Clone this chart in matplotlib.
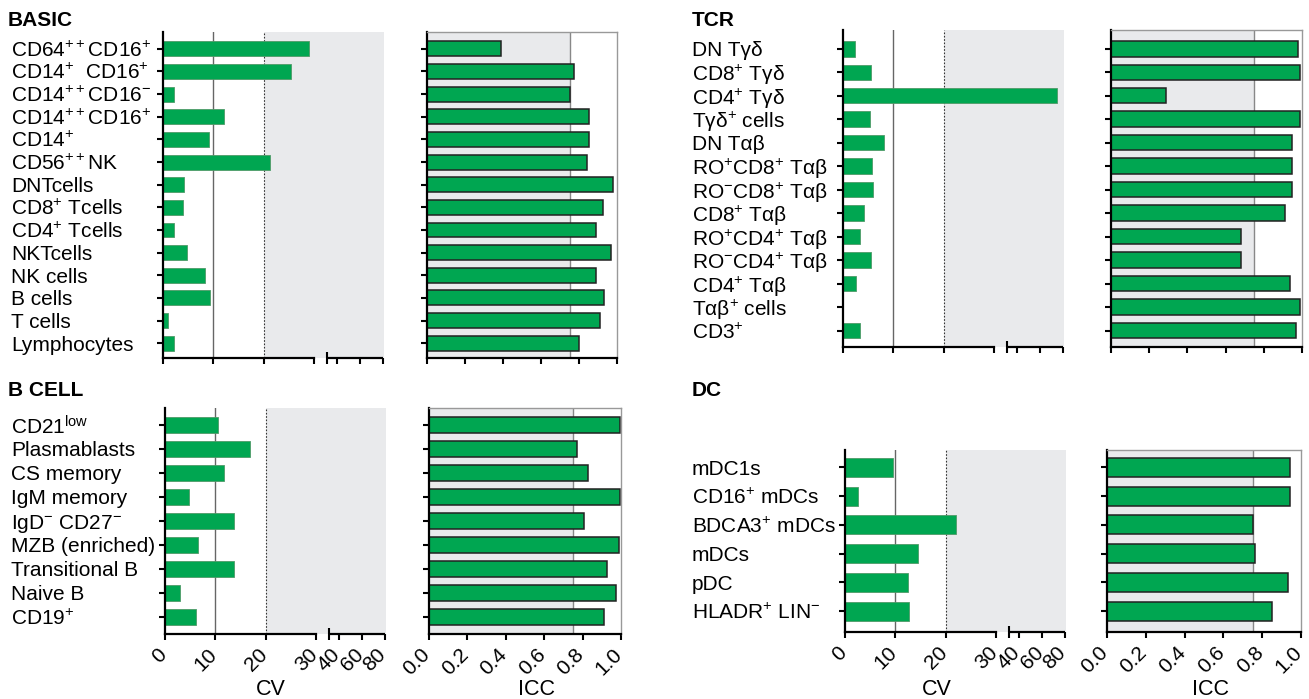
import numpy as np
import matplotlib
matplotlib.use("Agg")
import matplotlib.pyplot as plt
from matplotlib.transforms import ScaledTranslation

plt.rcParams['font.family'] = ['Liberation Sans', 'DejaVu Sans']
plt.rcParams['mathtext.default'] = 'regular'

W, H = 1309, 699
GREEN = '#00a651'
GRAY_BG = '#e9eaec'

# ---- data (top to bottom) ----
basic_labels = ['CD64$^{++}$CD16$^{+}$', 'CD14$^{+}$  CD16$^{+}$', 'CD14$^{++}$CD16$^{-}$',
                'CD14$^{++}$CD16$^{+}$', 'CD14$^{+}$', 'CD56$^{++}$NK', 'DNTcells',
                'CD8$^{+}$ Tcells', 'CD4$^{+}$ Tcells', 'NKTcells', 'NK cells', 'B cells',
                'T cells', 'Lymphocytes']
basic_cv = [29.0, 25.3, 2.2, 12.0, 9.2, 21.2, 4.1, 3.9, 2.1, 4.8, 8.4, 9.4, 0.9, 2.2]
basic_icc = [0.39, 0.775, 0.75, 0.85, 0.855, 0.84, 0.98, 0.925, 0.89, 0.97, 0.89, 0.93, 0.91, 0.80]

tcr_labels = ['DN Tγδ', 'CD8$^{+}$ Tγδ', 'CD4$^{+}$ Tγδ', 'Tγδ$^{+}$ cells', 'DN Tαβ',
              'RO$^{+}$CD8$^{+}$ Tαβ', 'RO$^{-}$CD8$^{+}$ Tαβ', 'CD8$^{+}$ Tαβ',
              'RO$^{+}$CD4$^{+}$ Tαβ', 'RO$^{-}$CD4$^{+}$ Tαβ', 'CD4$^{+}$ Tαβ',
              'Tαβ$^{+}$ cells', 'CD3$^{+}$']
tcr_cv = [2.4, 5.6, 75.0, 5.4, 8.2, 5.8, 5.9, 4.1, 3.3, 5.6, 2.5, 0.0, 3.4]
tcr_icc = [0.98, 0.99, 0.29, 0.99, 0.95, 0.95, 0.95, 0.91, 0.68, 0.68, 0.935, 0.99, 0.97]

bcell_labels = ['CD21$^{low}$', 'Plasmablasts', 'CS memory', 'IgM memory',
                'IgD$^{-}$ CD27$^{-}$', 'MZB (enriched)', 'Transitional B', 'Naive B',
                'CD19$^{+}$']
bcell_cv = [10.4, 16.9, 11.6, 4.7, 13.7, 6.5, 13.7, 3.0, 6.1]
bcell_icc = [0.997, 0.772, 0.826, 0.993, 0.809, 0.99, 0.929, 0.972, 0.911]

dc_labels = ['mDC1s', 'CD16$^{+}$ mDCs', 'BDCA3$^{+}$ mDCs', 'mDCs', 'pDC',
             'HLADR$^{+}$ LIN$^{-}$']
dc_cv = [9.5, 2.5, 22.0, 14.4, 12.4, 12.6]
dc_icc = [0.945, 0.945, 0.752, 0.762, 0.933, 0.853]

cv_ticks = [0, 10, 20, 30, 40, 60, 80]
icc_ticks = [0.0, 0.2, 0.4, 0.6, 0.8, 1.0]


# broken CV axis: 0-30 linear, then 31-80 compressed
def cv_fwd(x):
    x = np.asarray(x, float)
    return np.where(x <= 30, x, 34.5 + (x - 40) * 0.226)


def cv_inv(y):
    y = np.asarray(y, float)
    return np.where(y <= 30, y, np.where(y < 32.24, 30, 40 + (y - 34.5) / 0.226))


fig = plt.figure(figsize=(W / 100, H / 100), dpi=100)
shift = ScaledTranslation(0.05, 0, fig.dpi_scale_trans)


def px_axes(l, t, r, b):
    return fig.add_axes([l / W, 1 - b / H, (r - l) / W, (b - t) / H])


def style_common(ax, n, pads):
    ax.set_ylim(n - 1 + pads[1], -pads[0])
    for s in ('left', 'bottom'):
        ax.spines[s].set_linewidth(1.6)
        ax.spines[s].set_color('k')
    ax.tick_params(axis='both', which='major', direction='out', length=4.5,
                   width=1.5, color='k', labelsize=15)


def rotate_xlabels(ax, texts):
    ax.set_xticklabels(texts, rotation=45, ha='right')
    for t in ax.get_xticklabels():
        t.set_transform(t.get_transform() + shift)


def cv_panel(box, labels, values, pads, label_px, bottom_row):
    ax = px_axes(*box)
    ax.set_xscale('function', functions=(cv_fwd, cv_inv))
    y = np.arange(len(labels))
    ax.axvspan(20, 81, color=GRAY_BG, lw=0, zorder=0)
    ax.axvline(10, color='#666666', lw=1, zorder=1)
    ax.axvline(20, color='#333333', lw=0.8, ls=(0, (1.5, 1.5)), zorder=1)
    ax.barh(y, values, height=0.66, color=GREEN, edgecolor='#4f9a68', lw=0.6, zorder=2)
    ax.set_xlim(0, 81)
    style_common(ax, len(labels), pads)
    ax.spines['top'].set_visible(False)
    ax.spines['right'].set_visible(False)
    ax.spines['bottom'].set_bounds(0, 30)
    ax.plot([31.3, 80], [0, 0], transform=ax.get_xaxis_transform(), color='k',
            lw=1.6, clip_on=False, solid_capstyle='butt')
    ax.set_xticks(cv_ticks)
    ax.set_xticks([30, 31.3], minor=True)
    ax.tick_params(axis='x', which='minor', direction='inout', length=8, width=1.5)
    if bottom_row:
        rotate_xlabels(ax, [str(t) for t in cv_ticks])
    else:
        ax.set_xticklabels([])
    pad = (box[0] - label_px) * 0.72 - 4.5
    ax.set_yticks(y, labels)
    ax.tick_params(axis='y', pad=pad, labelsize=15)
    for t in ax.get_yticklabels():
        t.set_ha('left')
    return ax


def icc_panel(box, values, pads, bottom_row):
    ax = px_axes(*box)
    y = np.arange(len(values))
    ax.axvspan(0, 0.75, color=GRAY_BG, lw=0, zorder=0)
    ax.axvline(0.75, color='#888888', lw=1, zorder=1)
    ax.barh(y, values, height=0.66, color=GREEN, edgecolor='#222222', lw=1.1, zorder=2)
    ax.set_xlim(0, 1)
    style_common(ax, len(values), pads)
    for s in ('top', 'right'):
        ax.spines[s].set_color('#999999')
        ax.spines[s].set_linewidth(1)
    ax.set_xticks(icc_ticks)
    if bottom_row:
        rotate_xlabels(ax, [f'{t:.1f}' for t in icc_ticks])
    else:
        ax.set_xticklabels([])
    ax.set_yticks(y, [''] * len(values))
    return ax


# BASIC
cv_panel((163, 32, 384, 358), basic_labels, basic_cv, (0.74, 0.65), 11, False)
icc_panel((427, 32, 617, 358), basic_icc, (0.74, 0.65), False)
# TCR
cv_panel((843, 30, 1064, 347), tcr_labels, tcr_cv, (0.8, 0.7), 692, False)
icc_panel((1111, 30, 1302, 347), tcr_icc, (0.8, 0.7), False)
# B CELL
cv_panel((165, 408, 386, 634), bcell_labels, bcell_cv, (0.71, 0.72), 11, True)
icc_panel((429, 408, 621, 634), bcell_icc, (0.71, 0.72), True)
# DC
cv_panel((845, 450, 1066, 632), dc_labels, dc_cv, (0.6, 0.72), 692, True)
icc_panel((1107, 450, 1301, 632), dc_icc, (0.6, 0.72), True)

# panel titles
for txt, x, yb in [('BASIC', 8, 26), ('TCR', 692, 26), ('B CELL', 8, 396), ('DC', 692, 396)]:
    fig.text(x / W, 1 - yb / H, txt, fontsize=15, fontweight='bold', va='baseline')

# axis titles
for txt, x in [('CV', 271), ('ICC', 537), ('CV', 937), ('ICC', 1210)]:
    fig.text(x / W, 1 - 695 / H, txt, fontsize=15.5, ha='center', va='baseline')

fig.savefig('out.png', dpi=100)
